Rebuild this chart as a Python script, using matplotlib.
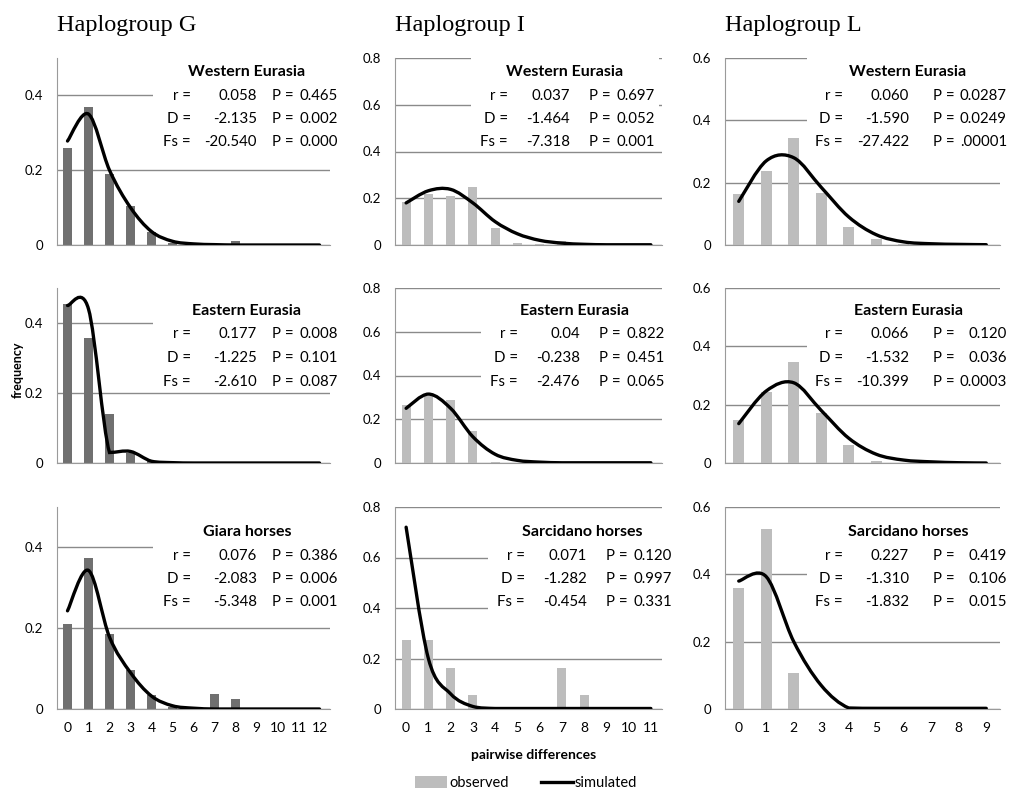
import matplotlib
matplotlib.use("Agg")
import matplotlib.pyplot as plt
from matplotlib.path import Path
from matplotlib.patches import PathPatch, Rectangle
from matplotlib.lines import Line2D

plt.rcParams['font.family'] = ['Lato', 'DejaVu Sans']

W, H = 1010, 794

# Haplogroup G (pairwise differences 0..12)
g_west_obs = [0.26, 0.37, 0.19, 0.105, 0.035, 0.005, 0.002, 0.003, 0.012, 0.001, 0, 0, 0]
g_west_sim = [0.278, 0.35, 0.20, 0.10, 0.036, 0.01, 0.003, 0.001, 0, 0, 0, 0, 0]
g_east_obs = [0.455, 0.356, 0.139, 0.03, 0.005, 0, 0, 0, 0, 0, 0, 0, 0]
g_east_sim = [0.45, 0.44, 0.03, 0.033, 0.005, 0.001, 0, 0, 0, 0, 0, 0, 0]
g_giara_obs = [0.211, 0.373, 0.186, 0.097, 0.035, 0.005, 0, 0.037, 0.025, 0.003, 0, 0, 0]
g_giara_sim = [0.243, 0.343, 0.178, 0.09, 0.032, 0.008, 0.002, 0, 0, 0, 0, 0, 0]

# Haplogroup I (0..11)
i_west_obs = [0.185, 0.22, 0.21, 0.25, 0.073, 0.008, 0.005, 0.015, 0.003, 0, 0, 0]
i_west_sim = [0.18, 0.232, 0.238, 0.18, 0.1, 0.048, 0.02, 0.008, 0.003, 0.001, 0.001, 0.001]
i_east_obs = [0.263, 0.305, 0.288, 0.145, 0.003, 0, 0, 0, 0, 0, 0, 0]
i_east_sim = [0.25, 0.315, 0.25, 0.12, 0.04, 0.012, 0.004, 0.001, 0.001, 0.001, 0.001, 0.001]
i_sarc_obs = [0.273, 0.273, 0.162, 0.055, 0, 0, 0, 0.162, 0.055, 0, 0, 0]
i_sarc_sim = [0.72, 0.2, 0.06, 0.01, 0.002, 0.002, 0.002, 0.002, 0.002, 0.002, 0.002, 0.002]

# Haplogroup L (0..9)
l_west_obs = [0.163, 0.236, 0.344, 0.166, 0.057, 0.019, 0.002, 0, 0, 0]
l_west_sim = [0.14, 0.27, 0.28, 0.185, 0.09, 0.033, 0.01, 0.004, 0.002, 0.001]
l_east_obs = [0.146, 0.244, 0.346, 0.173, 0.061, 0.008, 0, 0, 0, 0]
l_east_sim = [0.135, 0.247, 0.275, 0.18, 0.085, 0.03, 0.01, 0.004, 0.001, 0]
l_sarc_obs = [0.36, 0.534, 0.107, 0, 0, 0, 0, 0, 0, 0]
l_sarc_sim = [0.38, 0.393, 0.2, 0.07, 0.003, 0.002, 0.002, 0.002, 0.002, 0.002]

stat_labels = ['r =', 'D =', 'Fs =']
g_west_stats = (['0.058', '-2.135', '-20.540'], ['0.465', '0.002', '0.000'])
g_east_stats = (['0.177', '-1.225', '-2.610'], ['0.008', '0.101', '0.087'])
g_giara_stats = (['0.076', '-2.083', '-5.348'], ['0.386', '0.006', '0.001'])
i_west_stats = (['0.037', '-1.464', '-7.318'], ['0.697', '0.052', '0.001'])
i_east_stats = (['0.04', '-0.238', '-2.476'], ['0.822', '0.451', '0.065'])
i_sarc_stats = (['0.071', '-1.282', '-0.454'], ['0.120', '0.997', '0.331'])
l_west_stats = (['0.060', '-1.590', '-27.422'], ['0.0287', '0.0249', '.00001'])
l_east_stats = (['0.066', '-1.532', '-10.399'], ['0.120', '0.036', '0.0003'])
l_sarc_stats = (['0.227', '-1.310', '-1.832'], ['0.419', '0.106', '0.015'])

col_titles = ['Haplogroup G', 'Haplogroup I', 'Haplogroup L']
y_ticks = [[0, 0.2, 0.4], [0, 0.2, 0.4, 0.6, 0.8], [0, 0.2, 0.4, 0.6]]
y_max = [0.5, 0.8, 0.6]

panels = [
    [('Western Eurasia', g_west_obs, g_west_sim, g_west_stats),
     ('Eastern Eurasia', g_east_obs, g_east_sim, g_east_stats),
     ('Giara horses', g_giara_obs, g_giara_sim, g_giara_stats)],
    [('Western Eurasia', i_west_obs, i_west_sim, i_west_stats),
     ('Eastern Eurasia', i_east_obs, i_east_sim, i_east_stats),
     ('Sarcidano horses', i_sarc_obs, i_sarc_sim, i_sarc_stats)],
    [('Western Eurasia', l_west_obs, l_west_sim, l_west_stats),
     ('Eastern Eurasia', l_east_obs, l_east_sim, l_east_stats),
     ('Sarcidano horses', l_sarc_obs, l_sarc_sim, l_sarc_stats)],
]

bar_colors = ['#707070', '#bdbdbd', '#bdbdbd']
grid_color = '#8a8a8a'

# layout in pixels
col_x = [(57, 330), (395, 662), (725, 1000)]
row_y = [(58, 245), (288, 463), (507, 709)]
title_y = [72, 311, 532]
# x of the right edge of "r =" etc. for each panel
label_right = [[191, 191, 191], [508, 518, 525], [843, 843, 843]]
# offsets from label_right: value right, "P =" left, p value right, title center, box left
col_offsets = [(66, 81, 147, 56, -38), (62, 81, 147, 57, -37), (66, 90, 164, 65, -36)]


def fx(px):
    return px / W


def fy(py):
    return 1 - py / H


def smooth_path(xs, ys):
    # Catmull-Rom style bezier through the points, like a spreadsheet "smoothed line";
    # control points are kept from dipping below the lower end of each segment
    pts = list(zip(xs, ys))
    n = len(pts)
    verts = [pts[0]]
    codes = [Path.MOVETO]
    for i in range(n - 1):
        p0 = pts[i - 1] if i > 0 else pts[i]
        p1 = pts[i]
        p2 = pts[i + 1]
        p3 = pts[i + 2] if i + 2 < n else pts[i + 1]
        lo = min(p1[1], p2[1])
        c1 = (p1[0] + (p2[0] - p0[0]) / 6, max(lo, p1[1] + (p2[1] - p0[1]) / 6))
        c2 = (p2[0] - (p3[0] - p1[0]) / 6, max(lo, p2[1] - (p3[1] - p1[1]) / 6))
        verts += [c1, c2, p2]
        codes += [Path.CURVE4] * 3
    return Path(verts, codes)


fig = plt.figure(figsize=(W / 100, H / 100), dpi=100)

for c in range(3):
    x0, x1 = col_x[c]
    fig.text(fx(x0), fy(31), col_titles[c], family='Liberation Serif',
             fontsize=17.5, ha='left', va='baseline')
    for r in range(3):
        name, obs, sim, stats = panels[c][r]
        top, bottom = row_y[r]
        ax = fig.add_axes([fx(x0), fy(bottom), (x1 - x0) / W, (bottom - top) / H])
        n = len(obs)
        xs = list(range(n))
        ax.bar(xs, obs, width=0.4, color=bar_colors[c], zorder=2)
        ax.add_patch(PathPatch(smooth_path(xs, sim), fill=False, lw=2.4,
                               edgecolor='black', capstyle='round', zorder=3))
        ax.set_xlim(-0.5, n - 0.5)
        ax.set_ylim(0, y_max[c])
        ax.set_yticks(y_ticks[c])
        ax.set_yticklabels(['0' if t == 0 else f'{t:.1f}' for t in y_ticks[c]])
        ax.set_axisbelow(True)
        ax.yaxis.grid(True, color=grid_color, lw=1)
        for s in ['top', 'right']:
            ax.spines[s].set_visible(False)
        ax.spines['left'].set_color('#9a9a9a')
        ax.spines['bottom'].set_color('#9a9a9a')
        ax.tick_params(axis='both', length=0, labelsize=9.5, colors='black')
        ax.tick_params(axis='y', pad=10)
        ax.set_xticks(xs)
        if r == 2:
            ax.tick_params(axis='x', pad=9, labelsize=10)
        else:
            ax.set_xticklabels([])

        # white box behind the statistics text
        lr = label_right[c][r]
        vo, po, pvo, to, bo = col_offsets[c]
        ty = title_y[r]
        box_top = ty - 17
        box_bottom = ty + 79
        ax.add_patch(Rectangle((fx(lr + bo), fy(box_bottom)), (pvo - bo + 4) / W,
                               (box_bottom - box_top) / H, transform=fig.transFigure,
                               facecolor='white', edgecolor='none', clip_on=False,
                               zorder=1.5))
        fig.text(fx(lr + to), fy(ty), name, fontsize=11.5, fontweight='bold',
                 ha='center', va='center')
        vals, pvals = stats
        for k in range(3):
            yy = fy(ty + 23.5 * (k + 1))
            fig.text(fx(lr), yy, stat_labels[k], fontsize=10.8, ha='right', va='center')
            fig.text(fx(lr + vo), yy, vals[k], fontsize=10.8, ha='right', va='center')
            fig.text(fx(lr + po), yy, 'P =', fontsize=10.8, ha='left', va='center')
            fig.text(fx(lr + pvo), yy, pvals[k], fontsize=10.8, ha='right', va='center')

fig.text(fx(18), fy(370), 'frequency', rotation=90, fontsize=9, fontweight='bold',
         ha='center', va='center')
fig.text(fx(534), fy(755), 'pairwise differences', fontsize=10, fontweight='bold',
         ha='center', va='center')

# legend
handles = [Rectangle((0, 0), 1, 1, facecolor='#bdbdbd', edgecolor='none'),
           Line2D([], [], color='black', lw=2.4)]
fig.legend(handles, ['observed', 'simulated'], loc='center', ncol=2,
           bbox_to_anchor=(fx(526), fy(783)), frameon=False, fontsize=10.5,
           handlelength=2.2, handletextpad=0.15, columnspacing=2.2,
           handleheight=0.9)

fig.savefig('out.png', dpi=100)
